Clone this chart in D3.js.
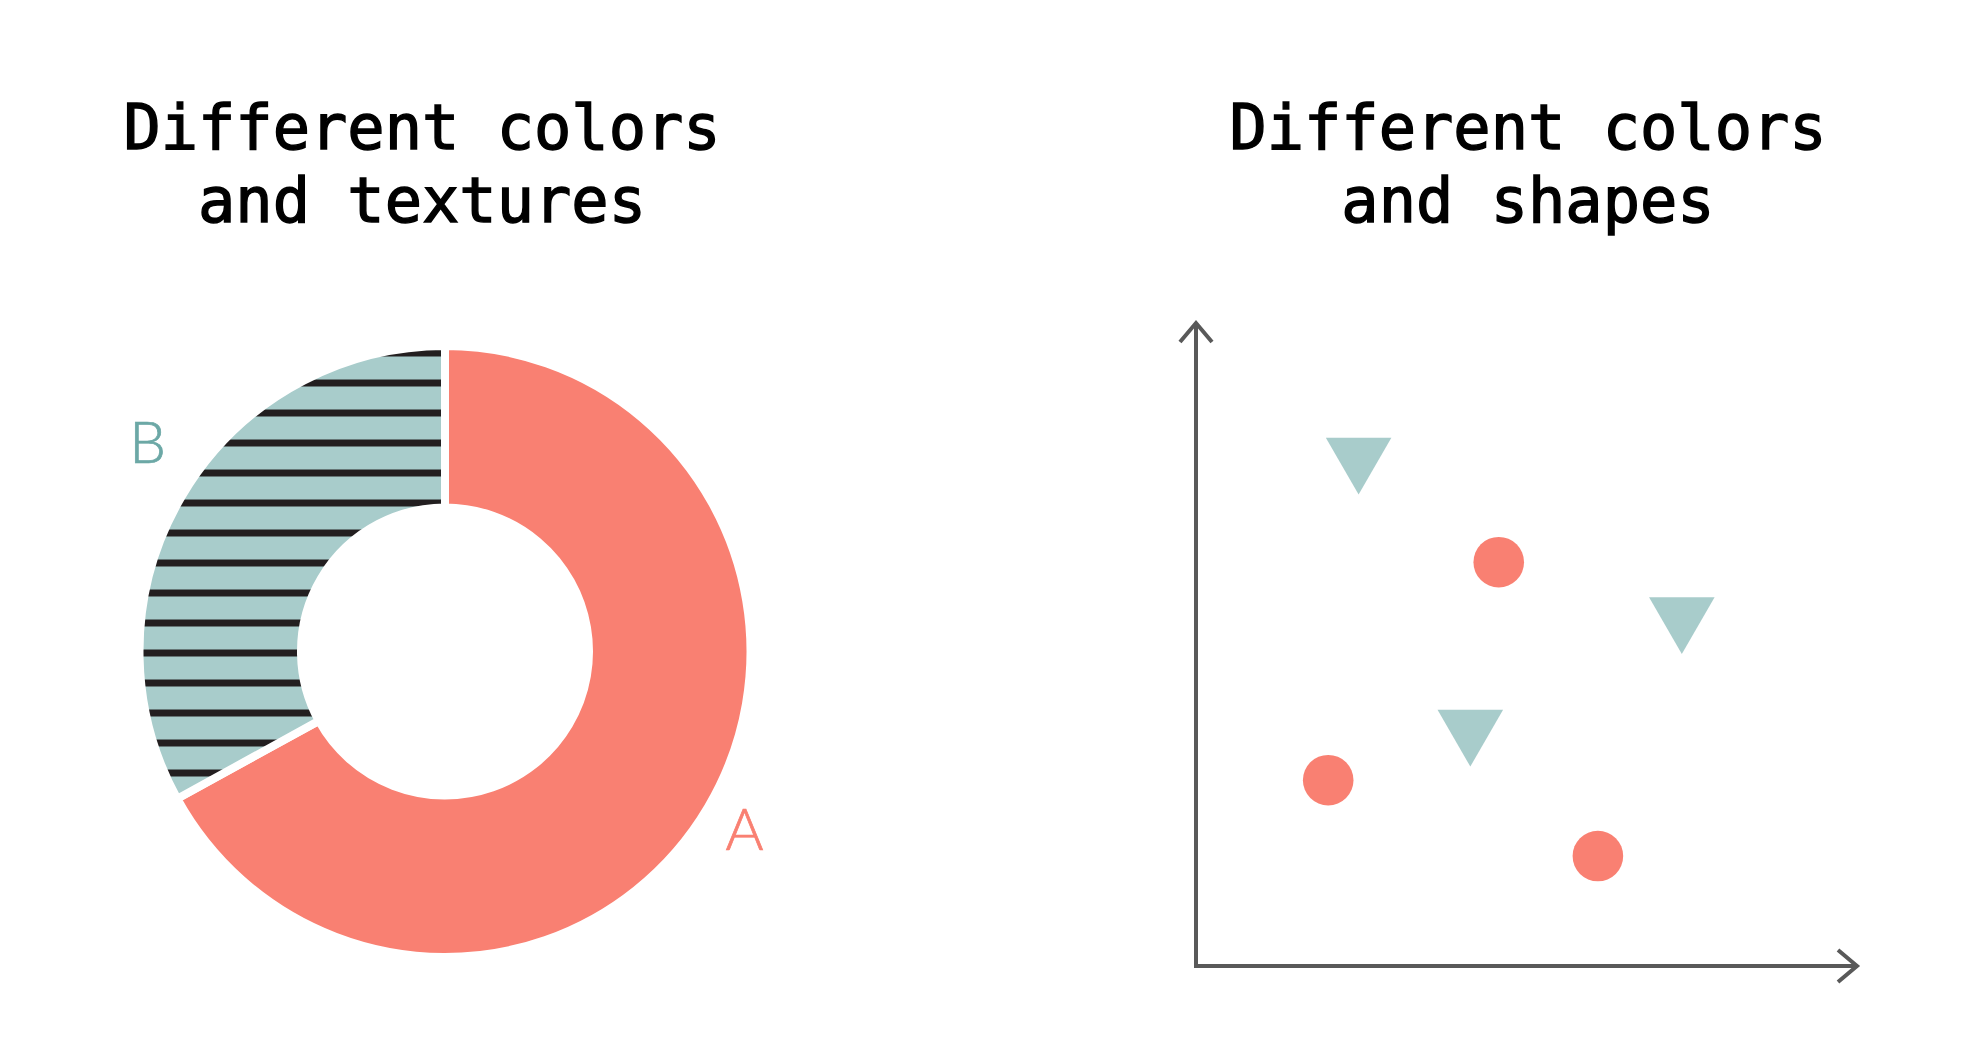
<!DOCTYPE html>
<html>
<head>
<meta charset="utf-8">
<script src="https://cdn.jsdelivr.net/npm/d3@7"></script>
<style>
  body { margin: 0; background: #fff; }
  .title { font-family: "DejaVu Sans Mono", monospace; font-size: 62px; fill: #000; stroke: #000; stroke-width: 1.4px; }
  .slice-label { font-family: Lato, "Open Sans", sans-serif; font-weight: 300; font-size: 58px; stroke-width: 0.7px; }
</style>
</head>
<body>
<script>
// donut data
var sliceNames = ["A", "B"];
var sliceShares = [67, 33];

// scatter data (group A = circles, group B = triangles)
var pointGroup = ["A", "A", "A", "B", "B", "B"];
var pointX = [45.8, 20.0, 60.8, 24.6, 73.5, 41.5];
var pointY = [62.8, 28.9, 17.1, 79.2, 54.4, 36.9];

var titles = [
  ["Different colors", "and textures"],
  ["Different colors", "and shapes"]
];

var salmon = "#f98072",
    teal = "#a8cccb",
    tealDark = "#6ca8a6",
    axisGrey = "#595959";

var width = 1974, height = 1052;

var svg = d3.select("body").append("svg")
    .attr("width", width)
    .attr("height", height);

// stripe texture for slice B
var defs = svg.append("defs");
var stripes = defs.append("pattern")
    .attr("id", "stripes")
    .attr("patternUnits", "userSpaceOnUse")
    .attr("width", 30)
    .attr("height", 30)
    .attr("patternTransform", "translate(0,-2)");
stripes.append("rect")
    .attr("width", 30).attr("height", 30)
    .attr("fill", teal);
stripes.append("rect")
    .attr("y", 0)
    .attr("width", 30).attr("height", 7)
    .attr("fill", "#231f20");

// titles
var titleX = [422, 1528];
titles.forEach(function(lines, i) {
  var t = svg.append("text")
      .attr("class", "title")
      .attr("text-anchor", "middle");
  lines.forEach(function(line, j) {
    t.append("tspan")
        .attr("x", titleX[i])
        .attr("y", 149 + j * 73)
        .text(line);
  });
});

// ---- donut ----
var cx = 445, cy = 651.5;
var outerR = 305.5, innerR = 144;

var pieData = d3.pie().sort(null)(sliceShares);

var arc = d3.arc().innerRadius(innerR).outerRadius(outerR);
var labelArc = d3.arc().innerRadius(348).outerRadius(348);

var donut = svg.append("g")
    .attr("transform", "translate(" + cx + "," + cy + ")");

donut.selectAll("path.slice")
    .data(pieData)
  .enter().append("path")
    .attr("class", "slice")
    .attr("d", arc)
    .attr("fill", function(d, i) { return i === 0 ? salmon : "url(#stripes)"; })
    .attr("stroke", "#fff")
    .attr("stroke-width", 8)
    .attr("stroke-linejoin", "miter");

// B sits a little higher than its centroid in the original
var labelNudge = { A: [0, 0], B: [2, -32] };

donut.selectAll("text.slice-label")
    .data(pieData)
  .enter().append("text")
    .attr("class", "slice-label")
    .attr("text-anchor", "middle")
    .attr("fill", function(d, i) { return i === 0 ? salmon : tealDark; })
    .attr("stroke", function(d, i) { return i === 0 ? salmon : tealDark; })
    .attr("x", function(d, i) { return labelArc.centroid(d)[0] + labelNudge[sliceNames[i]][0]; })
    .attr("y", function(d, i) { return labelArc.centroid(d)[1] + labelNudge[sliceNames[i]][1] + 21; })
    .text(function(d, i) { return sliceNames[i]; });

// ---- scatter ----
var x = d3.scaleLinear().domain([0, 100]).range([1196, 1857]);
var y = d3.scaleLinear().domain([0, 100]).range([966, 323]);

var axes = svg.append("g")
    .attr("fill", "none")
    .attr("stroke", axisGrey)
    .attr("stroke-width", 4);

axes.append("path")
    .attr("d", d3.line()([[x(0), y(100)], [x(0), y(0)], [x(100), y(0)]]))
    .attr("stroke-linejoin", "miter");

var back = 19, spread = 16;
// y arrow head
axes.append("path")
    .attr("d", d3.line()([[x(0) - spread, y(100) + back], [x(0), y(100)], [x(0) + spread, y(100) + back]]));
// x arrow head
axes.append("path")
    .attr("d", d3.line()([[x(100) - back, y(0) - spread], [x(100), y(0)], [x(100) - back, y(0) + spread]]));

var shape = d3.scaleOrdinal().domain(["A", "B"]).range([d3.symbolCircle, d3.symbolTriangle]);
var color = d3.scaleOrdinal().domain(["A", "B"]).range([salmon, teal]);
var size = d3.scaleOrdinal().domain(["A", "B"]).range([2010, 1860]);

svg.selectAll("path.point")
    .data(pointGroup)
  .enter().append("path")
    .attr("class", "point")
    .attr("d", function(g) { return d3.symbol().type(shape(g)).size(size(g))(); })
    .attr("fill", function(g) { return color(g); })
    .attr("transform", function(g, i) {
      return "translate(" + x(pointX[i]) + "," + y(pointY[i]) + ")" + (g === "B" ? " rotate(180)" : "");
    });
</script>
</body>
</html>
